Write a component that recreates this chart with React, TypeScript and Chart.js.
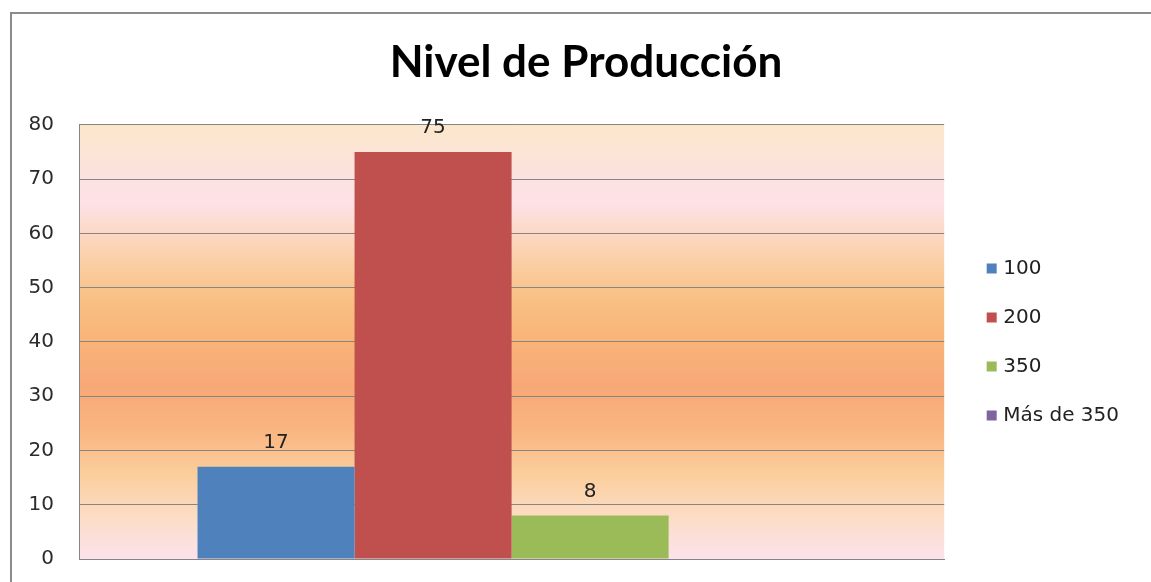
import React, { useEffect, useRef } from "react";
import { Chart, registerables } from "chart.js";

Chart.register(...registerables);

const chartTitle = "Nivel de Producción";
const categories = [""];
const seriesLabels = ["100", "200", "350", "Más de 350"];
const seriesValues: (number | null)[] = [17, 75, 8, null];
const seriesColors = ["#4f81bd", "#c0504d", "#9bbb59", "#8064a2"];
const yMin = 0;
const yMax = 80;
const yStep = 10;

const TEXT_FONT = "DejaVu Sans";
const CANVAS_W = 1172;
const CANVAS_H = 582;

const plotBackground = {
  id: "plotBackground",
  beforeDraw(chart: any) {
    const { ctx, chartArea } = chart;
    if (!chartArea) return;
    const { left, top, right, bottom } = chartArea;
    const g = ctx.createLinearGradient(0, top, 0, bottom);
    g.addColorStop(0, "#fbe7cb");
    g.addColorStop(0.1, "#fce2dc");
    g.addColorStop(0.18, "#fde1e8");
    g.addColorStop(0.3, "#fbd2ab");
    g.addColorStop(0.4, "#f9c084");
    g.addColorStop(0.5, "#f9b378");
    g.addColorStop(0.6, "#f8a877");
    g.addColorStop(0.7, "#f9b480");
    g.addColorStop(0.8, "#fbcd9a");
    g.addColorStop(0.9, "#fcdcc4");
    g.addColorStop(1, "#fce3ec");
    ctx.save();
    ctx.fillStyle = g;
    ctx.fillRect(left, top, right - left, bottom - top);
    ctx.restore();
  },
};

const valueLabels = {
  id: "valueLabels",
  afterDatasetsDraw(chart: any) {
    const { ctx } = chart;
    ctx.save();
    ctx.font = `20px "${TEXT_FONT}"`;
    ctx.fillStyle = "#222222";
    ctx.textAlign = "center";
    ctx.textBaseline = "alphabetic";
    chart.data.datasets.forEach((ds: any, i: number) => {
      const meta = chart.getDatasetMeta(i);
      meta.data.forEach((el: any, j: number) => {
        const v = ds.data[j];
        if (v === null || v === undefined) return;
        ctx.fillText(String(v), el.x, el.y - 19);
      });
    });
    ctx.restore();
  },
};

export default function App() {
  const canvasRef = useRef<HTMLCanvasElement | null>(null);

  useEffect(() => {
    document.body.style.margin = "0";
    const canvas = canvasRef.current;
    if (!canvas) return;
    const chart = new Chart(canvas, {
      type: "bar",
      data: {
        labels: categories,
        datasets: seriesLabels.map((label, i) => ({
          label,
          data: [seriesValues[i]],
          backgroundColor: seriesColors[i],
          borderWidth: 0,
          categoryPercentage: 0.726,
          barPercentage: 1,
        })),
      },
      options: {
        responsive: false,
        animation: false,
        layout: { padding: { left: 0, right: 0, top: 0, bottom: 0 } },
        plugins: {
          title: {
            display: true,
            text: chartTitle,
            color: "#000000",
            font: { family: "Lato", weight: "bold", size: 44 },
            padding: { top: 36, bottom: 36 },
          },
          legend: {
            position: "right",
            fullSize: false,
            maxWidth: 400,
            labels: {
              usePointStyle: true,
              pointStyle: "rect",
              boxWidth: 3,
              boxHeight: 10,
              padding: 29,
              color: "#222222",
              font: { family: TEXT_FONT, size: 20 },
            },
          },
          tooltip: { enabled: false },
        },
        scales: {
          x: {
            ticks: { display: false },
            grid: { display: false },
            border: { display: true, color: "#858585", width: 1 },
            afterFit: (s: any) => {
              s.height = 23;
            },
          },
          y: {
            min: yMin,
            max: yMax,
            ticks: {
              stepSize: yStep,
              padding: 5,
              color: "#2b2b2b",
              font: { family: TEXT_FONT, size: 20 },
            },
            grid: {
              color: "#858585",
              lineWidth: 1,
              drawTicks: true,
              tickLength: 20,
              tickColor: "rgba(0,0,0,0)",
            },
            border: { display: true, color: "#858585", width: 1 },
            afterFit: (s: any) => {
              s.width = 79;
            },
          },
          gap: {
            type: "linear",
            position: "right",
            display: true,
            ticks: { display: false },
            grid: { display: false },
            border: { display: false },
            afterFit: (s: any) => {
              s.width = 17;
            },
          },
          outer: {
            type: "linear",
            position: "right",
            weight: 2000,
            display: true,
            ticks: { display: false },
            grid: { display: false },
            border: { display: false },
            afterFit: (s: any) => {
              s.width = 43;
            },
          },
        },
      },
      plugins: [plotBackground, valueLabels],
    } as any);
    return () => chart.destroy();
  }, []);

  return (
    <div
      style={{
        position: "relative",
        width: 1151,
        height: 582,
        overflow: "hidden",
        background: "#ffffff",
      }}
    >
      <div
        style={{
          position: "absolute",
          left: 10,
          top: 12,
          width: 1300,
          height: 800,
          border: "2px solid #8c8c8c",
          boxSizing: "border-box",
        }}
      />
      <canvas
        ref={canvasRef}
        width={CANVAS_W}
        height={CANVAS_H}
        style={{ position: "absolute", left: 0, top: 0, width: CANVAS_W, height: CANVAS_H }}
      />
    </div>
  );
}
